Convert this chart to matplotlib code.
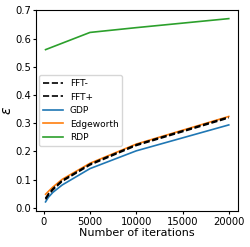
import numpy as np
import matplotlib.pyplot as plt

iterations = [200, 500, 1000, 2000, 5000, 10000, 20000]
fft_minus = [0.030, 0.045, 0.064, 0.094, 0.152, 0.221, 0.319]
fft_plus = [0.034, 0.049, 0.068, 0.097, 0.155, 0.224, 0.322]
gdp = [0.021, 0.037, 0.055, 0.081, 0.139, 0.202, 0.294]
edgeworth = [0.048, 0.058, 0.074, 0.101, 0.158, 0.226, 0.324]
rdp_iters = [200, 5000, 10000, 20000]
rdp = [0.561, 0.622, 0.639, 0.671]

fig, ax = plt.subplots(figsize=(2.51, 2.47), dpi=100)

ax.plot(iterations, fft_minus, 'k--', linewidth=1.2, label='FFT-', zorder=3)
ax.plot(iterations, fft_plus, 'k--', linewidth=1.2, label='FFT+', zorder=3)
ax.plot(iterations, gdp, color='#1f77b4', linewidth=1.2, label='GDP')
ax.plot(iterations, edgeworth, color='#ff7f0e', linewidth=1.2, label='Edgeworth')
ax.plot(rdp_iters, rdp, color='#2ca02c', linewidth=1.2, label='RDP')

ax.set_ylim(-0.012, 0.702)
ax.set_yticks(np.arange(0, 0.71, 0.1))
ax.set_xticks([0, 5000, 10000, 15000, 20000])
ax.tick_params(labelsize=7.2, length=2.5, pad=1.5)
ax.set_xlabel('Number of iterations', fontsize=8, labelpad=1)
ax.set_ylabel(r'$\epsilon$', fontsize=10, labelpad=1)
ax.legend(loc='center left', fontsize=6.5, handlelength=2.2, borderaxespad=0.3)

fig.subplots_adjust(left=0.145, right=0.948, top=0.96, bottom=0.145)
fig.savefig('out.png')
